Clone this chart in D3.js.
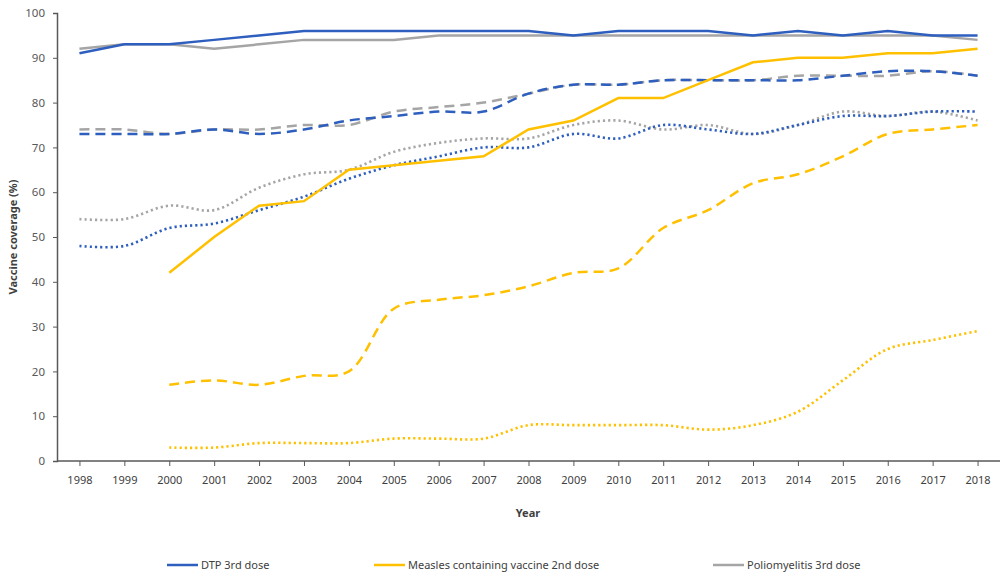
<!DOCTYPE html>
<html>
  <head>
    <meta http-equiv="Content-Type" content="text/html;charset=utf-8"/>
    <title>Vaccine coverage</title>
    <script src="https://cdn.jsdelivr.net/npm/d3@7"></script>
    <style>
      body { margin: 0; background: #fff; }
      text { font-family: "Noto Sans", sans-serif; }
    </style>
  </head>
  <body>
    <svg id="target"></svg>
  </body>
  <script>
    var years = [1998, 1999, 2000, 2001, 2002, 2003, 2004, 2005, 2006, 2007, 2008,
                 2009, 2010, 2011, 2012, 2013, 2014, 2015, 2016, 2017, 2018];
    var yTicks = [0, 10, 20, 30, 40, 50, 60, 70, 80, 90, 100];

    // solid / dashed / dotted = three groups, same colour per vaccine
    var dtpSolid    = [91, 93, 93, 94, 95, 96, 96, 96, 96, 96, 96, 95, 96, 96, 96, 95, 96, 95, 96, 95, 95];
    var dtpDashed   = [73, 73, 73, 74, 73, 74, 76, 77, 78, 78, 82, 84, 84, 85, 85, 85, 85, 86, 87, 87, 86];
    var dtpDotted   = [48, 48, 52, 53, 56, 59, 63, 66, 68, 70, 70, 73, 72, 75, 74, 73, 75, 77, 77, 78, 78];
    var mcvSolid    = [null, null, 42, 50, 57, 58, 65, 66, 67, 68, 74, 76, 81, 81, 85, 89, 90, 90, 91, 91, 92];
    var mcvDashed   = [null, null, 17, 18, 17, 19, 20, 34, 36, 37, 39, 42, 43, 52, 56, 62, 64, 68, 73, 74, 75];
    var mcvDotted   = [null, null, 3, 3, 4, 4, 4, 5, 5, 5, 8, 8, 8, 8, 7, 8, 11, 18, 25, 27, 29];
    var polSolid    = [92, 93, 93, 92, 93, 94, 94, 94, 95, 95, 95, 95, 95, 95, 95, 95, 95, 95, 95, 95, 94];
    var polDashed   = [74, 74, 73, 74, 74, 75, 75, 78, 79, 80, 82, 84, 84, 85, 85, 85, 86, 86, 86, 87, 86];
    var polDotted   = [54, 54, 57, 56, 61, 64, 65, 69, 71, 72, 72, 75, 76, 74, 75, 73, 75, 78, 77, 78, 76];

    var legendNames = ["DTP 3rd dose", "Measles containing vaccine 2nd dose", "Poliomyelitis 3rd dose"];

    var blue = "#2F5FBE", yellow = "#FFC000", gray = "#A5A5A5";

    var series = [
      { v: polDashed, c: gray, s: "dash" },
      { v: dtpDashed, c: blue, s: "dash" },
      { v: polDotted, c: gray, s: "dot" },
      { v: dtpDotted, c: blue, s: "dot" },
      { v: mcvDashed, c: yellow, s: "dash" },
      { v: mcvDotted, c: yellow, s: "dot" },
      { v: mcvSolid, c: yellow, s: "solid" },
      { v: polSolid, c: gray, s: "solid" },
      { v: dtpSolid, c: blue, s: "solid" }
    ];

    var width = 1000, height = 578;
    var svg = d3.select("#target").attr("width", width).attr("height", height);

    var x = d3.scalePoint().domain(years).range([57, 1000]).padding(0.5);
    var y = d3.scaleLinear().domain([0, 100]).range([461, 13]);

    // y axis with minor ticks every 2
    var gy = svg.append("g").attr("transform", "translate(57,0)");
    gy.call(d3.axisLeft(y).tickValues(d3.range(0, 101, 2)).tickSize(4).tickFormat(""));
    gy.call(d3.axisLeft(y).tickValues(yTicks).tickSize(4).tickPadding(8));
    gy.selectAll("path, line").attr("stroke", "#595959");
    gy.select(".domain").attr("stroke-width", 1.5);
    gy.selectAll("text").attr("fill", "#595959").style("font-size", "11.5px");

    // x axis
    var gx = svg.append("g").attr("transform", "translate(0,461)");
    gx.call(d3.axisBottom(x).tickSize(5).tickPadding(10).tickSizeOuter(0));
    gx.select(".domain").attr("d", "M57,0H1000").attr("stroke", "#595959").attr("stroke-width", 1.5);
    gx.selectAll("line").attr("stroke", "#595959");
    gx.selectAll("text").attr("fill", "#404040").style("font-size", "11px");

    var line = d3.line()
      .defined(function (d) { return d != null; })
      .x(function (d, i) { return x(years[i]); })
      .y(function (d) { return y(d); });

    var dashes = { solid: null, dash: "10,6", dot: "2.2,3" };

    series.forEach(function (s) {
      line.curve(s.s === "solid" ? d3.curveLinear : d3.curveCatmullRom.alpha(0.5));
      svg.append("path")
        .datum(s.v)
        .attr("fill", "none")
        .attr("stroke", s.c)
        .attr("stroke-width", s.s === "dot" ? 2.6 : 2.5)
        .attr("stroke-dasharray", dashes[s.s])
        .attr("d", line);
    });

    // axis titles
    svg.append("text")
      .attr("x", 528).attr("y", 517)
      .attr("text-anchor", "middle")
      .attr("fill", "#404040")
      .style("font-size", "11px").style("font-weight", "bold")
      .text("Year");

    svg.append("text")
      .attr("transform", "translate(17,237) rotate(-90)")
      .attr("text-anchor", "middle")
      .attr("fill", "#404040")
      .style("font-size", "11px").style("font-weight", "bold")
      .text("Vaccine coverage (%)");

    // legend
    var legendX = [167, 374, 713];
    var legendColors = [blue, yellow, gray];
    var lg = svg.append("g");
    legendNames.forEach(function (n, i) {
      lg.append("line")
        .attr("x1", legendX[i]).attr("x2", legendX[i] + 31)
        .attr("y1", 565).attr("y2", 565)
        .attr("stroke", legendColors[i]).attr("stroke-width", 2.5);
      lg.append("text")
        .attr("x", legendX[i] + 34).attr("y", 569)
        .attr("fill", "#404040")
        .style("font-size", "11px")
        .text(n);
    });
  </script>
</html>
